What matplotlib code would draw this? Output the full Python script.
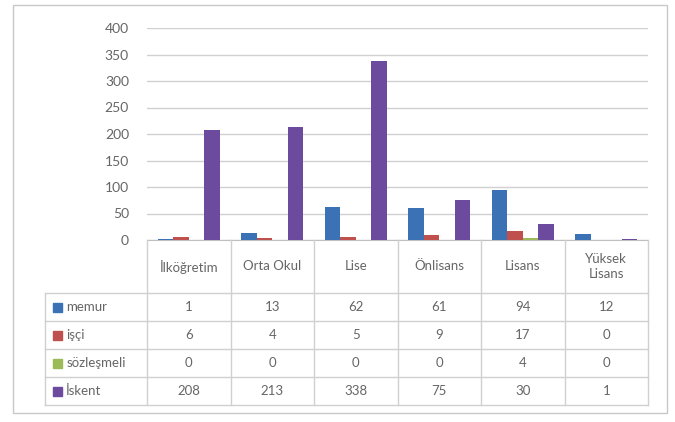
import matplotlib
matplotlib.use('Agg')
import matplotlib.pyplot as plt
from matplotlib.patches import Rectangle
import numpy as np

categories = ['İlköğretim', 'Orta Okul', 'Lise', 'Önlisans', 'Lisans', 'Yüksek\nLisans']
series = ['memur', 'işçi', 'sözleşmeli', 'İskent']
memur = [1, 13, 62, 61, 94, 12]
isci = [6, 4, 5, 9, 17, 0]
sozlesmeli = [0, 0, 0, 0, 4, 0]
iskent = [208, 213, 338, 75, 30, 1]
yticks = [0, 50, 100, 150, 200, 250, 300, 350, 400]

colors = ['#3B72B5', '#C0504D', '#9BBB59', '#6C4A9E']
values = [memur, isci, sozlesmeli, iskent]

plt.rcParams['font.family'] = ['Lato', 'DejaVu Sans']
txt = '#666666'
line = '#D0D0D0'

W, H = 675, 422
fig = plt.figure(figsize=(6.75, 4.22), dpi=100)

# outer chart frame
fig.patches.append(Rectangle((13 / W, 1 - 413 / H), 654 / W, 408 / H,
                             transform=fig.transFigure, fill=False,
                             edgecolor='#C8C8C8', lw=1))

# bar area
x0, x1, ytop, ybot = 147, 648, 28, 240
ax = fig.add_axes([x0 / W, 1 - ybot / H, (x1 - x0) / W, (ybot - ytop) / H])
x = np.arange(len(categories))
w = 0.185
for i, (vals, c) in enumerate(zip(values, colors)):
    ax.bar(x + (i - 1.5) * w, vals, width=w, color=c, zorder=3)
ax.set_xlim(-0.5, len(categories) - 0.5)
ax.set_ylim(0, 400)
ax.set_yticks(yticks)
ax.set_yticklabels([str(v) for v in yticks], color=txt, fontsize=10)
ax.tick_params(axis='y', length=0, pad=13)
ax.set_xticks([])
ax.grid(axis='y', color=line, lw=1, zorder=0)
for s in ['left', 'right', 'top']:
    ax.spines[s].set_visible(False)
ax.spines['bottom'].set_color('#BFBFBF')

# data table below
tl, tb = 45, 405
colw = (x1 - x0) / len(categories)
tax = fig.add_axes([tl / W, 1 - tb / H, (x1 - tl) / W, (tb - ybot) / H])
left_units = -0.5 - (x0 - tl) / colw
tax.set_xlim(left_units, len(categories) - 0.5)
tax.set_ylim(tb - ybot, 0)
tax.axis('off')
hdr = 53
rowh = 28
row_y = [hdr + k * rowh for k in range(len(series) + 1)]
for k in range(len(categories) + 1):
    xx = k - 0.5
    tax.plot([xx, xx], [0, row_y[-1]], color=line, lw=1, clip_on=False)
tax.plot([left_units, left_units], [hdr, row_y[-1]], color=line, lw=1, clip_on=False)
for yy in row_y:
    tax.plot([left_units, len(categories) - 0.5], [yy, yy], color=line, lw=1, clip_on=False)

for k, cat in enumerate(categories):
    tax.text(k, hdr / 2, cat, ha='center', va='center', color=txt, fontsize=9.5,
             linespacing=1.35)

for r, (name, vals, c) in enumerate(zip(series, values, colors)):
    yc = hdr + rowh * (r + 0.5)
    tax.add_patch(Rectangle((left_units + 0.095, yc - 4.5), 0.105, 9, color=c, clip_on=False))
    tax.text(left_units + 0.255, yc, name, ha='left', va='center', color=txt, fontsize=9.5)
    for k, v in enumerate(vals):
        tax.text(k, yc, str(v), ha='center', va='center', color=txt, fontsize=9.5)

fig.savefig('out.png', dpi=100)
